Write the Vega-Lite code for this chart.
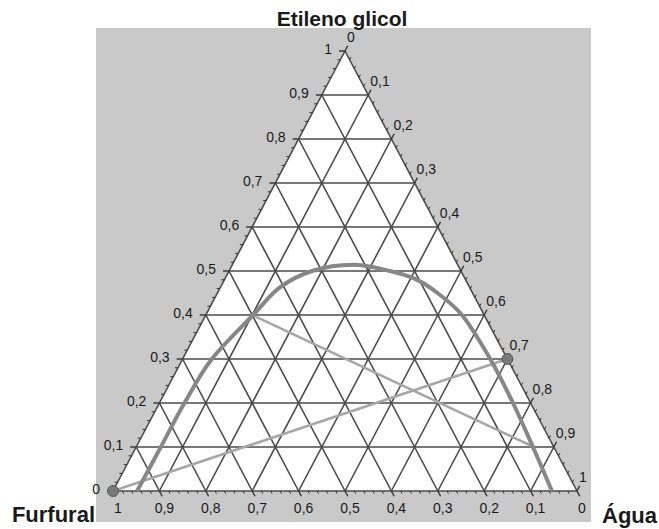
{
  "$schema": "https://vega.github.io/schema/vega-lite/v6.json",
  "width": 495,
  "height": 494,
  "autosize": {"type": "none"},
  "padding": {"left": 96, "top": 28, "right": 68, "bottom": 7},
  "background": "white",
  "config": {
    "view": {"stroke": null, "fill": "#c9c9c9"},
    "font": "Liberation Sans"
  },
  "datasets": {
    "gridValues": [
      {"v": 0}, {"v": 0.1}, {"v": 0.2}, {"v": 0.3}, {"v": 0.4},
      {"v": 0.5}, {"v": 0.6}, {"v": 0.7}, {"v": 0.8}, {"v": 0.9}
    ],
    "majorTicks": [
      {"v": 0, "t": "0"}, {"v": 0.1, "t": "0,1"}, {"v": 0.2, "t": "0,2"},
      {"v": 0.3, "t": "0,3"}, {"v": 0.4, "t": "0,4"}, {"v": 0.5, "t": "0,5"},
      {"v": 0.6, "t": "0,6"}, {"v": 0.7, "t": "0,7"}, {"v": 0.8, "t": "0,8"},
      {"v": 0.9, "t": "0,9"}, {"v": 1, "t": "1"}
    ],
    "minorTicks": [
      {"v": 0.02}, {"v": 0.04}, {"v": 0.06}, {"v": 0.08},
      {"v": 0.12}, {"v": 0.14}, {"v": 0.16}, {"v": 0.18},
      {"v": 0.22}, {"v": 0.24}, {"v": 0.26}, {"v": 0.28},
      {"v": 0.32}, {"v": 0.34}, {"v": 0.36}, {"v": 0.38},
      {"v": 0.42}, {"v": 0.44}, {"v": 0.46}, {"v": 0.48},
      {"v": 0.52}, {"v": 0.54}, {"v": 0.56}, {"v": 0.58},
      {"v": 0.62}, {"v": 0.64}, {"v": 0.66}, {"v": 0.68},
      {"v": 0.72}, {"v": 0.74}, {"v": 0.76}, {"v": 0.78},
      {"v": 0.82}, {"v": 0.84}, {"v": 0.86}, {"v": 0.88},
      {"v": 0.92}, {"v": 0.94}, {"v": 0.96}, {"v": 0.98}
    ],
    "vertices": [
      {"furfural": 1, "agua": 0, "etileno": 0},
      {"furfural": 0, "agua": 0, "etileno": 1},
      {"furfural": 0, "agua": 1, "etileno": 0}
    ],
    "binodal": [
      {"furfural": 0.948, "agua": 0.052, "etileno": 0.0},
      {"furfural": 0.847, "agua": 0.053, "etileno": 0.1},
      {"furfural": 0.746, "agua": 0.054, "etileno": 0.2},
      {"furfural": 0.637, "agua": 0.063, "etileno": 0.3},
      {"furfural": 0.498, "agua": 0.102, "etileno": 0.4},
      {"furfural": 0.41, "agua": 0.128, "etileno": 0.462},
      {"furfural": 0.321, "agua": 0.179, "etileno": 0.5},
      {"furfural": 0.226, "agua": 0.26, "etileno": 0.514},
      {"furfural": 0.153, "agua": 0.347, "etileno": 0.5},
      {"furfural": 0.108, "agua": 0.41, "etileno": 0.482},
      {"furfural": 0.081, "agua": 0.462, "etileno": 0.457},
      {"furfural": 0.048, "agua": 0.552, "etileno": 0.4},
      {"furfural": 0.037, "agua": 0.663, "etileno": 0.3},
      {"furfural": 0.038, "agua": 0.762, "etileno": 0.2},
      {"furfural": 0.045, "agua": 0.855, "etileno": 0.1},
      {"furfural": 0.054, "agua": 0.946, "etileno": 0.0}
    ],
    "tieLines": [
      {"linha": 1, "furfural": 1, "agua": 0, "etileno": 0},
      {"linha": 1, "furfural": 0, "agua": 0.7, "etileno": 0.3},
      {"linha": 2, "furfural": 0.5, "agua": 0.1, "etileno": 0.4},
      {"linha": 2, "furfural": 0.043, "agua": 0.857, "etileno": 0.1}
    ],
    "feedPoints": [
      {"furfural": 1, "agua": 0, "etileno": 0},
      {"furfural": 0, "agua": 0.7, "etileno": 0.3}
    ]
  },
  "layer": [
    {
      "data": {"name": "vertices"},
      "transform": [
        {"calculate": "datum.agua + datum.etileno / 2", "as": "x"},
        {"calculate": "datum.etileno", "as": "y"}
      ],
      "mark": {"type": "area", "color": "white", "opacity": 1},
      "encoding": {
        "x": {"field": "x", "type": "quantitative", "scale": {"domain": [-0.03664, 1.03017], "nice": false, "zero": false}, "axis": null},
        "y": {"field": "y", "type": "quantitative", "scale": {"domain": [-0.07045, 1.05227], "nice": false, "zero": false}, "axis": null},
        "y2": {"datum": 0}
      }
    },
    {
      "data": {"name": "gridValues"},
      "transform": [
        {"calculate": "datum.v / 2", "as": "x1"},
        {"calculate": "1 - datum.v / 2", "as": "x2"},
        {"calculate": "datum.v", "as": "y1"}
      ],
      "mark": {"type": "rule", "color": "#4a4a4a", "strokeWidth": 1.6},
      "encoding": {
        "x": {"field": "x1", "type": "quantitative"},
        "x2": {"field": "x2"},
        "y": {"field": "y1", "type": "quantitative"},
        "y2": {"field": "y1"}
      }
    },
    {
      "data": {"name": "gridValues"},
      "transform": [
        {"calculate": "1 - datum.v", "as": "x1"},
        {"calculate": "(1 - datum.v) / 2", "as": "x2"},
        {"calculate": "0", "as": "y1"},
        {"calculate": "1 - datum.v", "as": "y2"}
      ],
      "mark": {"type": "rule", "color": "#4a4a4a", "strokeWidth": 1.6},
      "encoding": {
        "x": {"field": "x1", "type": "quantitative"},
        "x2": {"field": "x2"},
        "y": {"field": "y1", "type": "quantitative"},
        "y2": {"field": "y2"}
      }
    },
    {
      "data": {"name": "gridValues"},
      "transform": [
        {"calculate": "datum.v", "as": "x1"},
        {"calculate": "0.5 + datum.v / 2", "as": "x2"},
        {"calculate": "0", "as": "y1"},
        {"calculate": "1 - datum.v", "as": "y2"}
      ],
      "mark": {"type": "rule", "color": "#4a4a4a", "strokeWidth": 1.6},
      "encoding": {
        "x": {"field": "x1", "type": "quantitative"},
        "x2": {"field": "x2"},
        "y": {"field": "y1", "type": "quantitative"},
        "y2": {"field": "y2"}
      }
    },
    {
      "data": {"name": "majorTicks"},
      "transform": [
        {"calculate": "datum.v / 2", "as": "x1"},
        {"calculate": "datum.v / 2 - 0.0129", "as": "x2"}
      ],
      "mark": {"type": "rule", "color": "#333333", "strokeWidth": 1.4},
      "encoding": {
        "x": {"field": "x1", "type": "quantitative"},
        "x2": {"field": "x2"},
        "y": {"field": "v", "type": "quantitative"},
        "y2": {"field": "v"}
      }
    },
    {
      "data": {"name": "majorTicks"},
      "transform": [
        {"calculate": "0.5 + datum.v / 2", "as": "x1"},
        {"calculate": "0.5 + datum.v / 2 + 0.006", "as": "x2"},
        {"calculate": "1 - datum.v", "as": "y1"},
        {"calculate": "1 - datum.v + 0.012", "as": "y2"}
      ],
      "mark": {"type": "rule", "color": "#333333", "strokeWidth": 1.4},
      "encoding": {
        "x": {"field": "x1", "type": "quantitative"},
        "x2": {"field": "x2"},
        "y": {"field": "y1", "type": "quantitative"},
        "y2": {"field": "y2"}
      }
    },
    {
      "data": {"name": "majorTicks"},
      "transform": [
        {"calculate": "1 - datum.v", "as": "x1"},
        {"calculate": "1 - datum.v + 0.006", "as": "x2"},
        {"calculate": "0", "as": "y1"},
        {"calculate": "-0.012", "as": "y2"}
      ],
      "mark": {"type": "rule", "color": "#333333", "strokeWidth": 1.4},
      "encoding": {
        "x": {"field": "x1", "type": "quantitative"},
        "x2": {"field": "x2"},
        "y": {"field": "y1", "type": "quantitative"},
        "y2": {"field": "y2"}
      }
    },
    {
      "data": {"name": "minorTicks"},
      "transform": [
        {"calculate": "datum.v / 2", "as": "x1"},
        {"calculate": "datum.v / 2 - 0.0065", "as": "x2"}
      ],
      "mark": {"type": "rule", "color": "#333333", "strokeWidth": 1},
      "encoding": {
        "x": {"field": "x1", "type": "quantitative"},
        "x2": {"field": "x2"},
        "y": {"field": "v", "type": "quantitative"},
        "y2": {"field": "v"}
      }
    },
    {
      "data": {"name": "minorTicks"},
      "transform": [
        {"calculate": "0.5 + datum.v / 2", "as": "x1"},
        {"calculate": "0.5 + datum.v / 2 + 0.003", "as": "x2"},
        {"calculate": "1 - datum.v", "as": "y1"},
        {"calculate": "1 - datum.v + 0.006", "as": "y2"}
      ],
      "mark": {"type": "rule", "color": "#333333", "strokeWidth": 1},
      "encoding": {
        "x": {"field": "x1", "type": "quantitative"},
        "x2": {"field": "x2"},
        "y": {"field": "y1", "type": "quantitative"},
        "y2": {"field": "y2"}
      }
    },
    {
      "data": {"name": "minorTicks"},
      "transform": [
        {"calculate": "1 - datum.v", "as": "x1"},
        {"calculate": "1 - datum.v + 0.003", "as": "x2"},
        {"calculate": "0", "as": "y1"},
        {"calculate": "-0.006", "as": "y2"}
      ],
      "mark": {"type": "rule", "color": "#333333", "strokeWidth": 1},
      "encoding": {
        "x": {"field": "x1", "type": "quantitative"},
        "x2": {"field": "x2"},
        "y": {"field": "y1", "type": "quantitative"},
        "y2": {"field": "y2"}
      }
    },
    {
      "data": {"name": "tieLines"},
      "transform": [
        {"calculate": "datum.agua + datum.etileno / 2", "as": "x"},
        {"calculate": "datum.etileno", "as": "y"}
      ],
      "mark": {"type": "line", "color": "#a6a6a6", "strokeWidth": 2.6},
      "encoding": {
        "x": {"field": "x", "type": "quantitative"},
        "y": {"field": "y", "type": "quantitative"},
        "detail": {"field": "linha", "type": "nominal"}
      }
    },
    {
      "data": {"name": "binodal"},
      "transform": [
        {"calculate": "datum.agua + datum.etileno / 2", "as": "x"},
        {"calculate": "datum.etileno", "as": "y"}
      ],
      "mark": {"type": "line", "color": "#878787", "strokeWidth": 4, "interpolate": "cardinal"},
      "encoding": {
        "x": {"field": "x", "type": "quantitative"},
        "y": {"field": "y", "type": "quantitative"}
      }
    },
    {
      "data": {"name": "feedPoints"},
      "transform": [
        {"calculate": "datum.agua + datum.etileno / 2", "as": "x"},
        {"calculate": "datum.etileno", "as": "y"}
      ],
      "mark": {"type": "circle", "size": 120, "color": "#7a7a7a", "opacity": 1, "stroke": "#555555", "strokeWidth": 1},
      "encoding": {
        "x": {"field": "x", "type": "quantitative"},
        "y": {"field": "y", "type": "quantitative"}
      }
    },
    {
      "data": {"name": "majorTicks"},
      "transform": [
        {"calculate": "datum.v / 2", "as": "x"}
      ],
      "mark": {"type": "text", "align": "right", "baseline": "middle", "dx": -13, "dy": -1, "fontSize": 14, "color": "#1a1a1a"},
      "encoding": {
        "x": {"field": "x", "type": "quantitative"},
        "y": {"field": "v", "type": "quantitative"},
        "text": {"field": "t"}
      }
    },
    {
      "data": {"name": "majorTicks"},
      "transform": [
        {"calculate": "1 - datum.v", "as": "x"},
        {"calculate": "0", "as": "y"}
      ],
      "mark": {"type": "text", "align": "center", "baseline": "top", "dx": 5, "dy": 11, "fontSize": 14, "color": "#1a1a1a"},
      "encoding": {
        "x": {"field": "x", "type": "quantitative"},
        "y": {"field": "y", "type": "quantitative"},
        "text": {"field": "t"}
      }
    },
    {
      "data": {"name": "majorTicks"},
      "transform": [
        {"calculate": "0.5 + datum.v / 2", "as": "x"},
        {"calculate": "1 - datum.v", "as": "y"}
      ],
      "mark": {"type": "text", "align": "left", "baseline": "middle", "dx": 2, "dy": -13, "fontSize": 14, "color": "#1a1a1a"},
      "encoding": {
        "x": {"field": "x", "type": "quantitative"},
        "y": {"field": "y", "type": "quantitative"},
        "text": {"field": "t"}
      }
    },
    {
      "data": {"values": [
        {"componente": "Etileno glicol", "x": 0.5, "y": 1}
      ]},
      "mark": {"type": "text", "align": "center", "baseline": "alphabetic", "dx": -3, "dy": -25, "fontSize": 21, "fontWeight": "bold", "color": "#1a1a1a"},
      "encoding": {
        "x": {"field": "x", "type": "quantitative"},
        "y": {"field": "y", "type": "quantitative"},
        "text": {"field": "componente"}
      }
    },
    {
      "data": {"values": [
        {"componente": "Furfural", "x": 0, "y": 0}
      ]},
      "mark": {"type": "text", "align": "right", "baseline": "alphabetic", "dx": -18, "dy": 31, "fontSize": 22, "fontWeight": "bold", "color": "#1a1a1a"},
      "encoding": {
        "x": {"field": "x", "type": "quantitative"},
        "y": {"field": "y", "type": "quantitative"},
        "text": {"field": "componente"}
      }
    },
    {
      "data": {"values": [
        {"componente": "Água", "x": 1, "y": 0}
      ]},
      "mark": {"type": "text", "align": "left", "baseline": "alphabetic", "dx": 25, "dy": 32, "fontSize": 22, "fontWeight": "bold", "color": "#1a1a1a"},
      "encoding": {
        "x": {"field": "x", "type": "quantitative"},
        "y": {"field": "y", "type": "quantitative"},
        "text": {"field": "componente"}
      }
    }
  ]
}
